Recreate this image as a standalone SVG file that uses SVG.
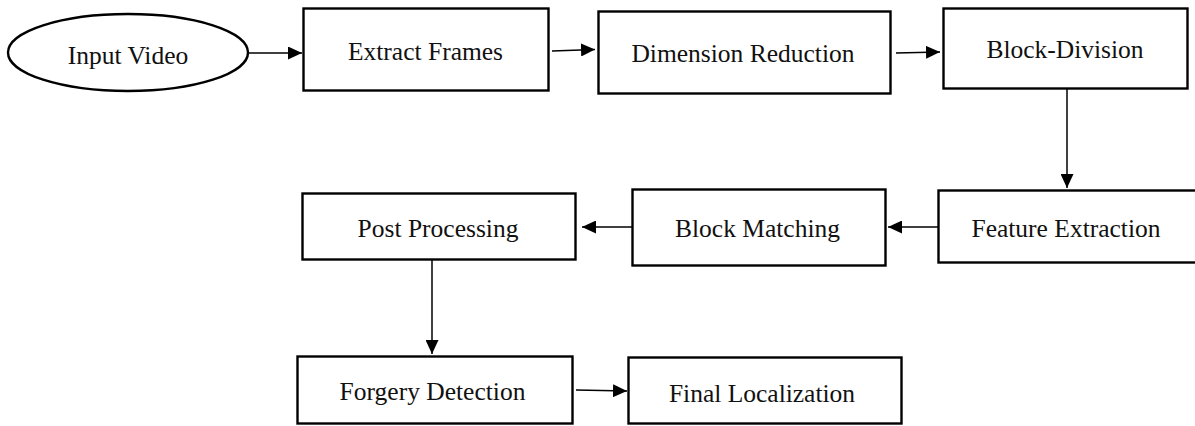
<svg xmlns="http://www.w3.org/2000/svg" width="1195" height="426" viewBox="0 0 1195 426">
<style>
.box{fill:#fff;stroke:#000;stroke-width:2.4}
.lbl{font-family:"Liberation Serif","Times New Roman",serif;font-size:25.5px;fill:#111;text-anchor:middle}
.conn{stroke:#000;stroke-width:1.5;fill:none;marker-end:url(#arr)}
</style>
<defs>
<marker id="arr" viewBox="0 0 14 13" refX="14" refY="6.5" markerWidth="14" markerHeight="13" markerUnits="userSpaceOnUse" orient="auto">
<path d="M0,0 L14,6.5 L0,13 z" fill="#000"/>
</marker>
</defs>
<rect width="1195" height="426" fill="#fff"/>
<g id="n-input">
<ellipse class="box" cx="128" cy="52.5" rx="120" ry="38.5"/>
<text class="lbl" x="128" y="64">Input Video</text>
</g>
<g id="n-extract">
<rect class="box" x="303.5" y="8.5" width="245" height="82"/>
<text class="lbl" x="425.5" y="60">Extract Frames</text>
</g>
<g id="n-dim">
<rect class="box" x="598.5" y="11.5" width="292" height="82"/>
<text class="lbl" x="743" y="62">Dimension Reduction</text>
</g>
<g id="n-block">
<rect class="box" x="943.5" y="8.5" width="244" height="80"/>
<text class="lbl" x="1065" y="58">Block-Division</text>
</g>
<g id="n-feature">
<rect class="box" x="938.5" y="190.5" width="270" height="72"/>
<text class="lbl" x="1066" y="237">Feature Extraction</text>
</g>
<g id="n-matching">
<rect class="box" x="632.5" y="189.5" width="253" height="76"/>
<text class="lbl" x="757.5" y="237">Block Matching</text>
</g>
<g id="n-post">
<rect class="box" x="302.5" y="193.5" width="273" height="66"/>
<text class="lbl" x="438" y="237">Post Processing</text>
</g>
<g id="n-forgery">
<rect class="box" x="297.5" y="356.5" width="275" height="67"/>
<text class="lbl" x="432.5" y="400">Forgery Detection</text>
</g>
<g id="n-final">
<rect class="box" x="628.5" y="357.5" width="273" height="66"/>
<text class="lbl" x="762" y="402">Final Localization</text>
</g>
<g id="connectors">
<path class="conn" d="M248,53 L302,53"/>
<path class="conn" d="M552,51 L595,49.5"/>
<path class="conn" d="M896,53 L940,52"/>
<path class="conn" d="M1067,89 L1067,188"/>
<path class="conn" d="M938,227 L888,227"/>
<path class="conn" d="M632,227 L582,227"/>
<path class="conn" d="M432,260 L432,354"/>
<path class="conn" d="M576,390 L627,391"/>
</g>
</svg>
